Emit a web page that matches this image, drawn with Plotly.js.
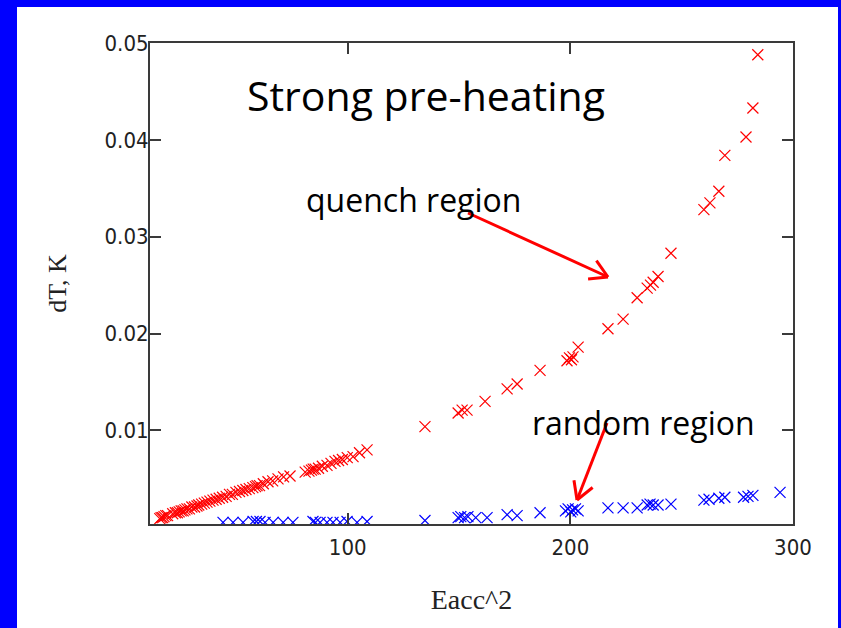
<!DOCTYPE html>
<html>
<head>
<meta charset="utf-8">
<script src="https://cdn.plot.ly/plotly-3.0.1.min.js"></script>
<style>
  html, body { margin: 0; padding: 0; background: #0000ff; width: 841px; height: 628px; overflow: hidden; }
  #frame { position: absolute; left: 17px; top: 7px; width: 821px; height: 621px; background: #ffffff; }
  #chart { position: absolute; left: 0; top: 0; width: 841px; height: 628px; }
</style>
</head>
<body>
<div id="frame"></div>
<div id="chart"></div>
<script>
// ---- data ----
const quenchX = [15.6, 16.2, 16.9, 17.5, 18.3, 19.1, 21.4, 22.6, 23.5, 24.3, 25.2, 26.1, 26.9, 27.8, 28.9, 30.0,
  31.2, 32.3, 33.1, 34.4, 35.6, 36.8, 38.1, 39.5, 40.9, 42.3, 43.8, 45.4, 46.9, 48.2, 49.8, 51.4, 52.9, 54.3,
  55.8, 57.4, 58.6, 59.3, 60.4, 62.1, 64.2, 66.3, 68.7, 71.2, 74.1, 80.9, 82.6, 83.7, 84.5, 85.4, 86.9, 88.6,
  90.7, 92.5, 94.3, 95.9, 97.6, 99.8, 102.4, 105.3, 108.7, 134.7, 149.6, 151.4, 153.6, 161.7, 171.6, 176.1,
  186.4, 198.5, 199.6, 200.5, 201.2, 203.5, 216.9, 223.7, 230.0, 234.5, 236.0, 237.2, 239.4, 245.2, 260.0,
  262.7, 266.7, 269.4, 278.9, 282.0, 284.2];
const quenchY = [0.0009, 0.0010, 0.0010, 0.0011, 0.0012, 0.0012, 0.0014, 0.0015, 0.0015, 0.0016, 0.0017, 0.0017,
  0.0018, 0.0019, 0.0019, 0.0021, 0.0021, 0.0022, 0.0023, 0.0024, 0.0025, 0.0026, 0.0027, 0.0028, 0.0029,
  0.0030, 0.0031, 0.0032, 0.0034, 0.0034, 0.0036, 0.0037, 0.0038, 0.0039, 0.0040, 0.0041, 0.0042, 0.0043,
  0.0043, 0.0045, 0.0047, 0.0048, 0.0050, 0.0052, 0.0053, 0.0057, 0.0058, 0.0059, 0.0060, 0.0060, 0.0061,
  0.0063, 0.0064, 0.0066, 0.0068, 0.0069, 0.0070, 0.0072, 0.0073, 0.0077, 0.0080, 0.0104, 0.0118, 0.0121,
  0.0121, 0.0130, 0.0143, 0.0148, 0.0162, 0.0172, 0.0175, 0.0173, 0.0176, 0.0186, 0.0205, 0.0215, 0.0237,
  0.0247, 0.0250, 0.0253, 0.0259, 0.0283, 0.0328, 0.0335, 0.0347, 0.0384, 0.0403, 0.0433, 0.0488];

const randomX = [44.0, 48.5, 53.0, 57.5, 59.0, 60.6, 62.9, 66.5, 71.0, 75.4, 84.4, 85.5, 87.6, 90.7, 93.4, 96.6,
  99.7, 104.2, 108.7, 134.7, 149.6, 150.8, 152.5, 154.0, 157.5, 162.6, 171.6, 176.1, 186.4, 197.8, 199.0,
  200.2, 201.0, 202.3, 203.5, 216.9, 223.7, 230.0, 234.5, 235.8, 237.2, 239.4, 245.2, 260.0, 262.3, 266.7,
  269.4, 277.8, 279.8, 282.0, 294.2];
const randomY = [0.0005, 0.0005, 0.0005, 0.0006, 0.0006, 0.0006, 0.0005, 0.0005, 0.0005, 0.0005, 0.0006, 0.0005,
  0.0005, 0.0005, 0.0005, 0.0005, 0.0006, 0.0005, 0.0006, 0.0007, 0.0010, 0.0011, 0.0010, 0.0011, 0.0010,
  0.0010, 0.0013, 0.0012, 0.0015, 0.0017, 0.0019, 0.0016, 0.0018, 0.0019, 0.0017, 0.0020, 0.0020, 0.0020,
  0.0023, 0.0024, 0.0023, 0.0023, 0.0024, 0.0028, 0.0029, 0.0030, 0.0031, 0.0031, 0.0032, 0.0033, 0.0036];

const xTicks = [100, 200, 300];
const yTicks = [0.01, 0.02, 0.03, 0.04, 0.05];
const yTickText = ["0.01", "0.02", "0.03", "0.04", "0.05"];

// ---- layout helpers (pixel -> paper) ----
const W = 841, H = 628;
const M = { l: 150, r: 48, t: 43, b: 104 };
const PW = W - M.l - M.r, PH = H - M.t - M.b;
const px = x => (x - M.l) / PW;
const py = y => (H - M.b - y) / PH;

function arrowShapes(x0, y0, x1, y1, color) {
  const dx = x0 - x1, dy = y0 - y1, L = Math.hypot(dx, dy);
  const ux = dx / L, uy = dy / L, a = 30 * Math.PI / 180, len = 20;
  const arm = s => [x1 + len * (ux * Math.cos(s * a) - uy * Math.sin(s * a)),
                    y1 + len * (ux * Math.sin(s * a) + uy * Math.cos(s * a))];
  const line = (ax, ay, bx, by) => ({ type: 'line', xref: 'paper', yref: 'paper',
    x0: px(ax), y0: py(ay), x1: px(bx), y1: py(by), line: { color: color, width: 3 } });
  const p1 = arm(1), p2 = arm(-1);
  return [line(x0, y0, x1, y1), line(x1, y1, p1[0], p1[1]), line(x1, y1, p2[0], p2[1])];
}

const markerStyle = c => ({ symbol: 'x-thin-open', size: 11, line: { color: c, width: 1.2 }, color: c });

const traces = [
  { x: quenchX, y: quenchY, type: 'scatter', mode: 'markers', name: 'quench', marker: markerStyle('#ff0000') },
  { x: randomX, y: randomY, type: 'scatter', mode: 'markers', name: 'random', marker: markerStyle('#0000ff') }
];

const axisCommon = {
  showgrid: false, zeroline: false, showline: true, linecolor: '#3a3a3a', linewidth: 2,
  mirror: 'ticks', ticks: 'inside', ticklen: 11, tickwidth: 2, tickcolor: '#3a3a3a',
  tickfont: { family: "'Liberation Sans Narrow', 'DejaVu Sans Condensed', Arial, sans-serif", size: 22, color: '#222' }
};

const annFont = s => ({ family: "'Open Sans', sans-serif", size: s, color: '#000' });

const layout = {
  width: W, height: H,
  margin: M,
  paper_bgcolor: 'rgba(0,0,0,0)',
  plot_bgcolor: '#ffffff',
  showlegend: false,
  xaxis: Object.assign({}, axisCommon, {
    range: [11.2, 300.01], tickvals: xTicks, ticktext: xTicks.map(String), ticklabelstandoff: 3,
    title: { text: 'Eacc^2', standoff: 30, font: { family: "'Liberation Serif', 'DejaVu Serif', serif", size: 28, color: '#222' } }
  }),
  yaxis: Object.assign({}, axisCommon, {
    range: [0.00034, 0.05001], tickvals: yTicks, ticktext: yTickText, ticklabelstandoff: -5,
    title: { text: 'dT, K', standoff: 30, font: { family: "'Liberation Serif', 'DejaVu Serif', serif", size: 26, color: '#222' } }
  }),
  annotations: [
    { text: 'Strong pre-heating', xref: 'paper', yref: 'paper', x: px(426), y: py(95), xanchor: 'center', yanchor: 'middle', showarrow: false, font: annFont(41) },
    { text: 'quench region', xref: 'paper', yref: 'paper', x: px(413), y: py(200), xanchor: 'center', yanchor: 'middle', showarrow: false, font: annFont(32) },
    { text: 'random region', xref: 'paper', yref: 'paper', x: px(643.5), y: py(422), xanchor: 'center', yanchor: 'middle', showarrow: false, font: annFont(32) }
  ],
  shapes: [].concat(arrowShapes(468, 213, 608, 277, '#ff0000'), arrowShapes(607, 423, 577, 500, '#ff0000'))
};

Plotly.newPlot('chart', traces, layout, { displayModeBar: false, staticPlot: true });
</script>
</body>
</html>
